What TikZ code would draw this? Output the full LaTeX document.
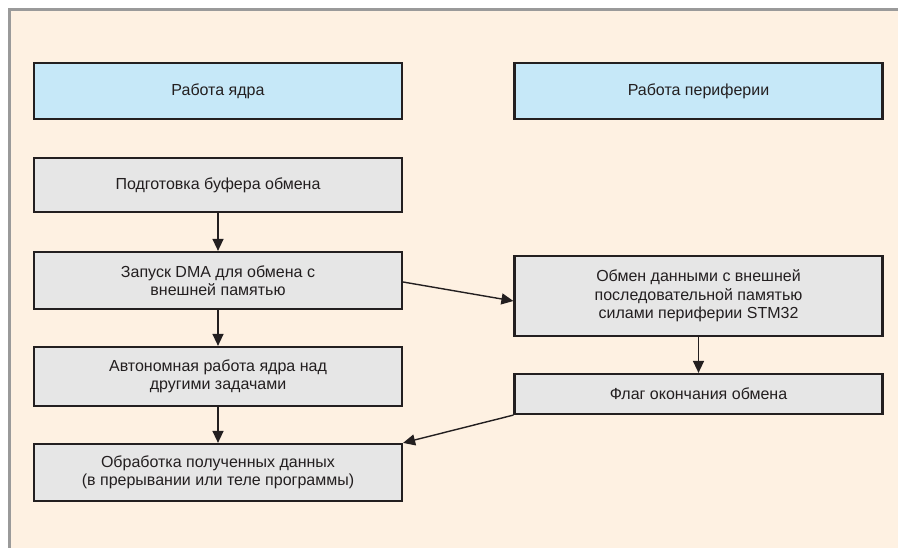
\documentclass[tikz,border=0pt]{standalone}
\usepackage{fontspec}
\setmainfont{Liberation Sans}
\usetikzlibrary{arrows.meta,calc}
\definecolor{bgpanel}{HTML}{FEF1E2}
\definecolor{panelborder}{HTML}{9A9A9A}
\definecolor{headfill}{HTML}{C6E8F8}
\definecolor{boxfill}{HTML}{E6E6E6}
\definecolor{inkdark}{HTML}{231F20}
\begin{document}
\begin{tikzpicture}[x=1pt,y=1pt,
  box/.style={draw=inkdark,line width=2.2pt,fill=boxfill,minimum width=368pt,
    text=inkdark,align=center,font=\fontsize{16}{18.5}\selectfont,inner sep=0pt},
  headbox/.style={box,fill=headfill},
  conn/.style={draw=inkdark,line width=1.4pt,-{Triangle[length=12pt,width=11pt]}}]
\useasboundingbox (0,0) rectangle (898,-548);
\fill[white] (0,0) rectangle (898,-548);
\fill[bgpanel] (9.5,-9.5) rectangle (898,-548);
\draw[panelborder,line width=3pt] (9.5,-548) -- (9.5,-9.5) -- (898,-9.5);
\node[headbox,minimum height=56pt] (core) at (218,-91) {Работа ядра};
\node[headbox,minimum height=56pt] (peri) at (698.5,-91) {Работа периферии};
\node[box,minimum height=54pt] (buf) at (218,-185) {Подготовка буфера обмена};
\node[box,minimum height=57pt] (dma) at (218,-280.5) {Запуск DMA для обмена с\\внешней памятью};
\node[box,minimum height=59pt] (auto) at (218,-376.5) {Автономная работа ядра над\\другими задачами};
\node[box,minimum height=57pt] (proc) at (218,-472.5) {Обработка полученных данных\\(в прерывании или теле программы)};
\node[box,minimum height=80pt] (xch) at (698.5,-296) {Обмен данными с внешней\\последовательной памятью\\силами периферии STM32};
\node[box,minimum height=40pt] (flag) at (698.5,-394) {Флаг окончания обмена};
\draw[conn] (buf) -- (dma);
\draw[conn] (dma) -- (auto);
\draw[conn] (auto) -- (proc);
\draw[conn] (xch) -- (flag);
\draw[conn] ([yshift=-1.5pt]dma.east) -- ([yshift=-5pt]xch.west);
\draw[conn] (flag.south west) -- (proc.north east);
\end{tikzpicture}
\end{document}
